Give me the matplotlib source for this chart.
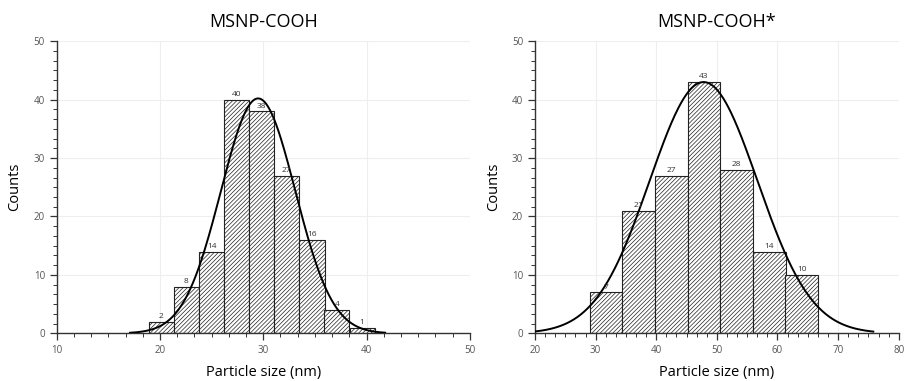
"""
Particle size histograms with gaussian fit
"""
import matplotlib
matplotlib.use("Agg")
import matplotlib.pyplot as plt
import numpy as np
from matplotlib.ticker import AutoMinorLocator, MultipleLocator

plt.rcParams['font.family'] = ['Open Sans', 'DejaVu Sans']
plt.rcParams['hatch.linewidth'] = 0.5
plt.rcParams['hatch.color'] = '#555555'

# left panel data (MSNP-COOH)
left_edges = [18.9, 21.35, 23.8, 26.2, 28.6, 31.05, 33.5, 35.9, 38.35]
left_width = 2.43
left_counts = [2, 8, 14, 40, 38, 27, 16, 4, 1]
left_fit = {'mu': 29.5, 'sigma': 3.6, 'amp': 40.2, 'x0': 17.1, 'x1': 41.8}

# right panel data (MSNP-COOH*)
right_edges = [29.0, 34.4, 39.8, 45.2, 50.55, 55.95, 61.3]
right_width = 5.39
right_counts = [7, 21, 27, 43, 28, 14, 10]
right_fit = {'mu': 47.8, 'sigma': 8.9, 'amp': 43.0, 'x0': 20.0, 'x1': 75.8}


def gauss(x, mu, sigma, amp):
    return amp * np.exp(-0.5 * ((x - mu) / sigma) ** 2)


def draw_panel(ax, edges, width, counts, fit, xlim, title):
    ax.bar(edges, counts, width=width, align='edge', color='white',
           edgecolor='#222222', linewidth=0.8, hatch='////////', zorder=2)
    for x, c in zip(edges, counts):
        ax.text(x + width / 2, c + 0.3, str(c), ha='center', va='bottom',
                fontsize=6, color='#333333', zorder=4)

    xs = np.linspace(fit['x0'], fit['x1'], 400)
    ax.plot(xs, gauss(xs, fit['mu'], fit['sigma'], fit['amp']),
            color='black', lw=1.4, zorder=3)

    ax.set_xlim(*xlim)
    ax.set_ylim(0, 50)
    ax.xaxis.set_major_locator(MultipleLocator(10))
    ax.yaxis.set_major_locator(MultipleLocator(10))
    ax.xaxis.set_minor_locator(AutoMinorLocator(6))
    ax.yaxis.set_minor_locator(AutoMinorLocator(6))
    ax.grid(True, which='major', color='#eeeeee', lw=0.8, zorder=0)
    ax.set_axisbelow(True)

    for s in ['top', 'right']:
        ax.spines[s].set_visible(False)
    for s in ['left', 'bottom']:
        ax.spines[s].set_color('#333333')
        ax.spines[s].set_linewidth(1.0)
    ax.tick_params(which='major', length=5, width=0.9, color='#333333',
                   labelsize=7, labelcolor='#555555')
    ax.tick_params(which='minor', length=3, width=0.7, color='#333333')

    ax.set_title(title, fontsize=13, pad=10)
    ax.set_xlabel('Particle size (nm)', fontsize=10.5, labelpad=6)
    ax.set_ylabel('Counts', fontsize=10.5, labelpad=8)


fig = plt.figure(figsize=(9.06, 3.81), dpi=100)
ax1 = fig.add_axes([0.0626, 0.125, 0.456, 0.767])
ax2 = fig.add_axes([0.5905, 0.125, 0.4015, 0.767])

draw_panel(ax1, left_edges, left_width, left_counts, left_fit, (10, 50), 'MSNP-COOH')
draw_panel(ax2, right_edges, right_width, right_counts, right_fit, (20, 80), 'MSNP-COOH*')

fig.savefig('out.png', dpi=100)
